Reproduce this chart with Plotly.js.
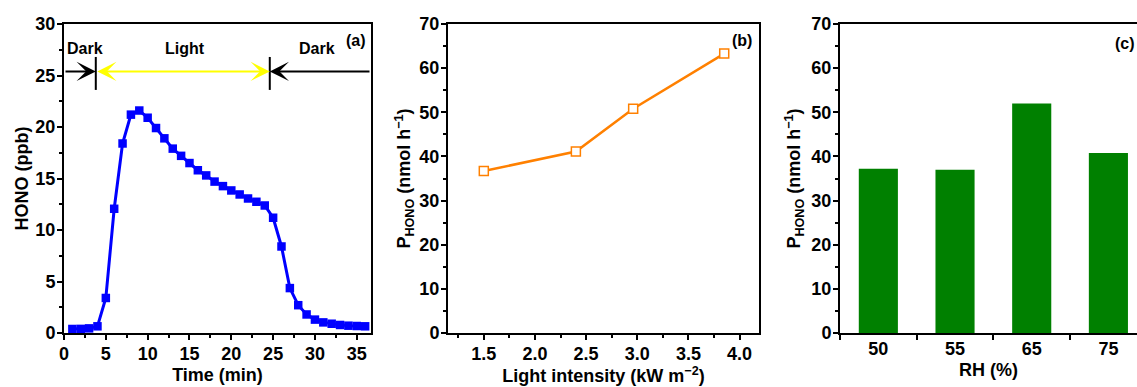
<!DOCTYPE html>
<html>
<head>
<meta charset="utf-8">
<script src="https://cdn.plot.ly/plotly-3.0.1.min.js"></script>
<style>html,body{margin:0;padding:0;background:#fff;}#chart{width:1137px;height:387px;}</style>
</head>
<body>
<div id="chart"></div>
<script>
// Panel (a): HONO vs time
const timeMin = [1,2,3,4,5,6,7,8,9,10,11,12,13,14,15,16,17,18,19,20,21,22,23,24,25,26,27,28,29,30,31,32,33,34,35,36];
const honoPpb = [0.39,0.40,0.45,0.65,3.4,12.06,18.4,21.2,21.6,20.9,19.9,18.9,17.9,17.2,16.5,15.8,15.3,14.7,14.26,13.84,13.45,13.06,12.74,12.38,11.19,8.4,4.36,2.7,1.8,1.3,1.03,0.9,0.78,0.71,0.68,0.65];
// Panel (b): P_HONO vs light intensity
const lightIntensity = [1.5, 2.4, 2.96, 3.85];
const pHonoLight = [36.7, 41.1, 50.8, 63.3];
// Panel (c): P_HONO vs RH
const rhLabels = ['50', '55', '65', '75'];
const pHonoRH = [37.2, 37.0, 52.0, 40.8];
// Phase markers (a)
const lightOn = 3.8;
const lightOff = 24.6;
const arrowY = 25.4;
const phaseLabels = [
  {text: 'Dark', x: 2.5},
  {text: 'Light', x: 14.5},
  {text: 'Dark', x: 30.3}
];

const W = 1137, H = 387;
const fontFam = 'Liberation Sans, Arial, sans-serif';
const tickFont = {family: fontFam, size: 18, color: '#000', weight: 'bold'};
const titleFont = {family: fontFam, size: 18, color: '#000', weight: 'bold'};
const yDom = [(H - 333) / H, (H - 24) / H];

function axisBase(extra) {
  return Object.assign({
    showline: true, linewidth: 2, linecolor: '#000', mirror: true,
    ticks: 'outside', ticklen: 5, tickwidth: 2, tickcolor: '#000',
    showgrid: false, zeroline: false, tickfont: tickFont,
    ticklabelstandoff: -2,
    fixedrange: true
  }, extra);
}

const traces = [
  {
    x: timeMin, y: honoPpb, xaxis: 'x', yaxis: 'y', type: 'scatter', mode: 'lines+markers',
    line: {color: '#0000ff', width: 3},
    marker: {symbol: 'square', size: 8.5, color: '#0000ff'},
    showlegend: false
  },
  {
    x: lightIntensity, y: pHonoLight, xaxis: 'x2', yaxis: 'y2', type: 'scatter', mode: 'lines+markers',
    line: {color: '#ff8000', width: 2.5},
    marker: {symbol: 'square', size: 9, color: '#ffffff', line: {color: '#ff8000', width: 1.5}},
    showlegend: false
  },
  {
    x: rhLabels, y: pHonoRH, xaxis: 'x3', yaxis: 'y3', type: 'bar',
    marker: {color: '#008000'},
    showlegend: false
  }
];

const annotations = [];
phaseLabels.forEach(p => annotations.push({
  xref: 'x', yref: 'y', x: p.x, y: 27.6, text: p.text, showarrow: false,
  font: {family: fontFam, size: 16, color: '#000', weight: 'bold'}
}));
annotations.push({xref: 'x', yref: 'y', x: 34.9, y: 28.4, text: '(a)', showarrow: false,
  font: {family: fontFam, size: 16, color: '#000', weight: 'bold'}});
annotations.push({xref: 'x2', yref: 'y2', x: 4.02, y: 66.2, text: '(b)', showarrow: false,
  font: {family: fontFam, size: 16, color: '#000', weight: 'bold'}});
annotations.push({xref: 'paper', yref: 'paper', x: 1137 / W, y: (H - 43) / H, xanchor: 'right', yanchor: 'middle',
  text: '(c)', showarrow: false, font: {family: fontFam, size: 16, color: '#000', weight: 'bold'}});
// arrows
annotations.push({xref: 'x', yref: 'y', axref: 'x', ayref: 'y', x: lightOn, y: arrowY, ax: 0, ay: arrowY,
  text: '', showarrow: true, arrowhead: 3, arrowsize: 1.6, arrowwidth: 2, arrowcolor: '#000', standoff: 0});
annotations.push({xref: 'x', yref: 'y', axref: 'x', ayref: 'y', x: lightOff, y: arrowY, ax: 36.7, ay: arrowY,
  text: '', showarrow: true, arrowhead: 3, arrowsize: 1.6, arrowwidth: 2, arrowcolor: '#000', standoff: 0});
annotations.push({xref: 'x', yref: 'y', axref: 'x', ayref: 'y', x: lightOff, y: arrowY, ax: lightOn, ay: arrowY,
  text: '', showarrow: true, arrowhead: 3, startarrowhead: 3, arrowside: 'end+start', arrowsize: 1.6, startarrowsize: 1.6,
  arrowwidth: 2, arrowcolor: '#ffff00', standoff: 0, startstandoff: 0});

const shapes = [lightOn, lightOff].map(xv => ({
  type: 'line', xref: 'x', yref: 'y', x0: xv, x1: xv, y0: 23.6, y1: 26.8,
  line: {color: '#000', width: 2}
}));

const minorY = d => ({dtick: d, ticks: 'outside', ticklen: 3, tickwidth: 2, tickcolor: '#000'});

const layout = {
  width: W, height: H,
  margin: {l: 0, r: 0, t: 0, b: 0},
  paper_bgcolor: '#fff', plot_bgcolor: '#fff',
  showlegend: false,
  bargap: 0.49,
  xaxis: axisBase({domain: [64 / W, 371 / W], anchor: 'y', range: [0, 36.7], tick0: 0, dtick: 5,
    minor: minorY(2.5),
    title: {text: 'Time (min)', font: titleFont, standoff: 6}}),
  yaxis: axisBase({domain: yDom, anchor: 'x', range: [0, 30], tick0: 0, dtick: 5,
    minor: minorY(2.5),
    title: {text: 'HONO (ppb)', font: titleFont, standoff: 2}}),
  xaxis2: axisBase({domain: [448 / W, 759 / W], anchor: 'y2', range: [1.15, 4.19], tick0: 0, dtick: 0.5, tickformat: '.1f',
    minor: minorY(0.25),
    title: {text: 'Light intensity (kW m<sup>−2</sup>)', font: titleFont, standoff: 6}}),
  yaxis2: axisBase({domain: yDom, anchor: 'x2', range: [0, 70], tick0: 0, dtick: 10,
    minor: minorY(5),
    title: {text: 'P<sub>HONO</sub> (nmol h<sup>−1</sup>)', font: titleFont, standoff: 4}}),
  xaxis3: axisBase({domain: [840 / W, 1], anchor: 'y3', type: 'category', range: [-0.5, 3.373], tickson: 'boundaries',
    title: {text: 'RH (%)', font: titleFont, standoff: 6}}),
  yaxis3: axisBase({domain: yDom, anchor: 'x3', range: [0, 70], tick0: 0, dtick: 10, mirror: false,
    minor: minorY(5),
    title: {text: 'P<sub>HONO</sub> (nmol h<sup>−1</sup>)', font: titleFont, standoff: 6}}),
  annotations: annotations,
  shapes: shapes
};

Plotly.newPlot('chart', traces, layout, {staticPlot: true, displayModeBar: false});
</script>
</body>
</html>
